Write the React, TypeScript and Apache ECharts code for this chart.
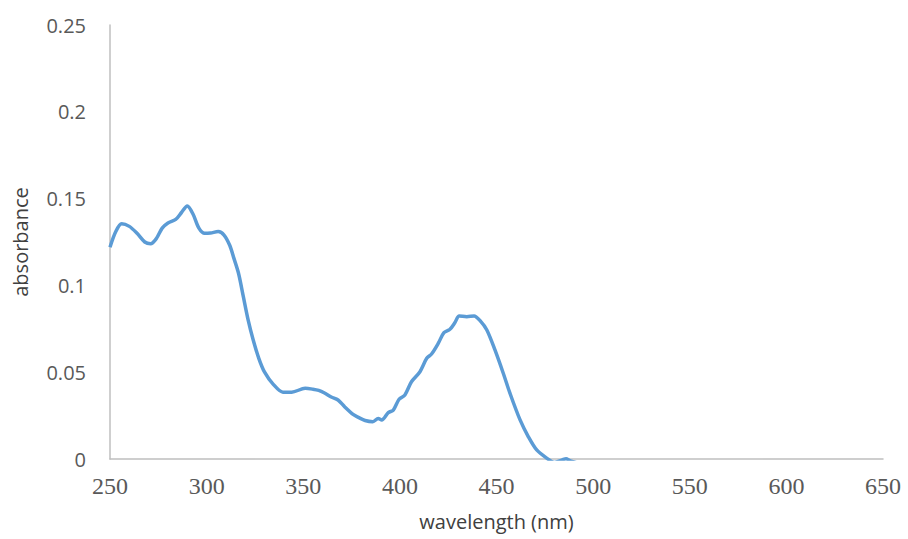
import React, { useEffect, useRef } from "react";
import * as echarts from "echarts";

const wavelengths = [
  250, 253, 256, 260, 264, 268, 271, 274, 277, 280, 284, 287, 290, 293, 296, 299, 302, 306, 309,
  312, 314, 316.5, 319, 321.5, 324, 327, 330, 334.5, 339.5, 344, 351, 355, 358, 361, 364.5, 368,
  371.5, 376, 378.5, 382, 386, 388.8, 390.6, 394, 396.6, 399.6, 402.6, 406, 410.4, 413.9, 416.4,
  419.9, 422.8, 425.9, 428.5, 430.7, 434.6, 438.4, 441.5, 445, 449.2, 453.5, 457, 462.2, 466.5,
  470.8, 476, 480, 484, 486, 488, 495, 520, 560, 600, 650,
];
const absorbance = [
  0.122, 0.131, 0.1355, 0.134, 0.13, 0.125, 0.124, 0.127, 0.133, 0.136, 0.138, 0.142, 0.1458,
  0.141, 0.133, 0.13, 0.1302, 0.131, 0.129, 0.123, 0.116, 0.107, 0.0935, 0.08, 0.069, 0.058, 0.05,
  0.043, 0.0385, 0.0385, 0.0407, 0.0402, 0.0395, 0.038, 0.0357, 0.034, 0.03, 0.0255, 0.024, 0.0222,
  0.0215, 0.0234, 0.0225, 0.0267, 0.0282, 0.0344, 0.0369, 0.0445, 0.0503, 0.058, 0.0605, 0.0667,
  0.0728, 0.0747, 0.0786, 0.0824, 0.082, 0.0824, 0.0797, 0.0743, 0.0628, 0.0494, 0.0378, 0.0225,
  0.0128, 0.0052, 0.0005, -0.002, -0.0005, 0.0002, -0.001, -0.003, -0.004, -0.004, -0.005, -0.005,
];
const xTitle = "wavelength (nm)";
const yTitle = "absorbance";

export default function App() {
  const ref = useRef<HTMLDivElement>(null);
  useEffect(() => {
    if (!ref.current) return;
    const chart = echarts.init(ref.current, null, { renderer: "svg" });
    chart.setOption({
      animation: false,
      backgroundColor: "#ffffff",
      grid: {
        left: 110,
        top: 25,
        right: 25,
        bottom: 80,
        containLabel: false,
        outerBoundsMode: "none",
      },
      xAxis: {
        type: "value",
        min: 250,
        max: 650,
        interval: 50,
        name: xTitle,
        nameLocation: "middle",
        nameGap: 52,
        nameTextStyle: { fontFamily: "Open Sans", fontSize: 20, color: "#404040" },
        axisLine: { show: true, lineStyle: { color: "#bfbfbf", width: 1.5 } },
        axisTick: { show: false },
        splitLine: { show: false },
        axisLabel: {
          fontFamily: "Liberation Serif",
          fontSize: 24,
          color: "#595959",
          margin: 15,
        },
      },
      yAxis: {
        type: "value",
        min: 0,
        max: 0.25,
        interval: 0.05,
        name: yTitle,
        nameLocation: "middle",
        nameGap: 80,
        nameRotate: 90,
        nameTextStyle: { fontFamily: "Open Sans", fontSize: 20, color: "#404040" },
        axisLine: { show: true, lineStyle: { color: "#bfbfbf", width: 1.5 } },
        axisTick: { show: false },
        splitLine: { show: false },
        axisLabel: {
          fontFamily: "Open Sans",
          fontSize: 20,
          color: "#595959",
          margin: 24,
        },
      },
      series: [
        {
          type: "line",
          data: wavelengths.map((w, i) => [w, absorbance[i]]),
          showSymbol: false,
          smooth: 0.3,
          clip: true,
          lineStyle: { color: "#5b9bd5", width: 3.5 },
        },
      ],
    });
    return () => chart.dispose();
  }, []);
  return (
    <div
      ref={ref}
      style={{ position: "fixed", left: 0, top: 0, width: 908, height: 539 }}
    />
  );
}
